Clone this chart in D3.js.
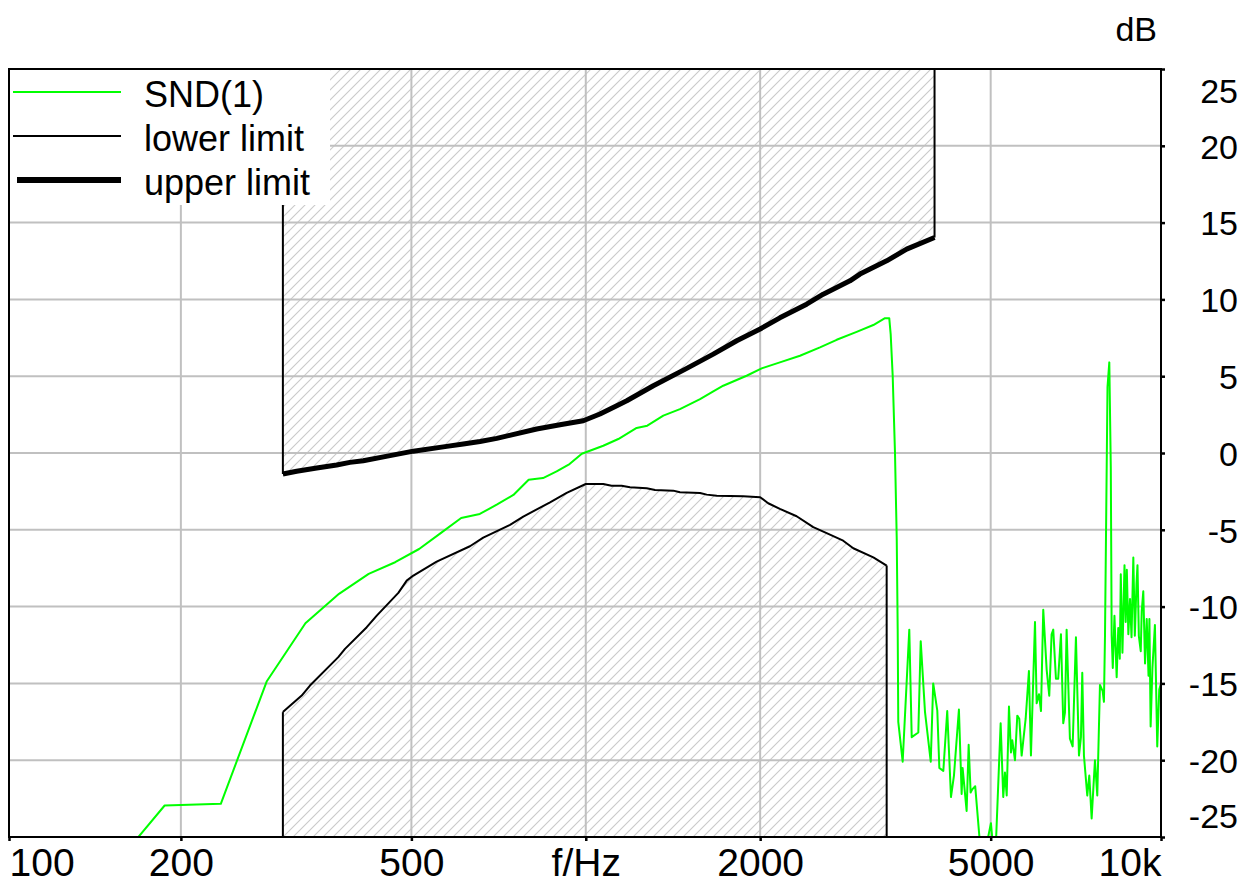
<!DOCTYPE html>
<html><head><meta charset="utf-8">
<script src="https://cdn.jsdelivr.net/npm/d3@7"></script>
<style>
html,body{margin:0;padding:0;background:#fff;}
svg{display:block;font-family:"Liberation Sans",Arial,sans-serif;}
</style></head>
<body>
<svg id="chart" width="1248" height="885"></svg>
<script>
// ---- data ----
const sndFreq = [140.6,187.5,234.4,281.25,328.1,375,421.9,468.75,515.6,562.5,609.4,656.25,703.1,750,796.9,843.75,890.6,937.5,984.4,
1072,1138,1224,1277,1361,1454,1575,1660,1727,1895,2012,2163,2343,2537,2711,2935,3136,3285,3341,3360,3387,3418,3442,3455,3463,3524,
3618,3653,3750,3786,3851,3940,3979,4044,4077,4142,4207,4270,4321,4407,4455,4472,4544,4581,4617,4647,4702,
4830,5005,5086,
5202,5256,5292,5329,5377,5420,5448,5507,5558,5602,5655,5746,5821,5868,5963,6003,6058,6107,6162,6246,6311,6370,6412,6481,6539,6611,6672,6717,6762,6851,6926,7017,7102,7158,7196,7244,7340,7399,7469,7568,7638,7720,7803,7843,7876,
7955,8012,8060,8088,8124,8178,8250,8303,8353,8386,8442,8511,8552,8590,8642,8700,8752,8815,8868,8927,8962,9010,9079,9114,9171,9235,9297,9364,9397,9443,9510,9605,9694,9772,9840];
const sndDb = [-28.6,-22.95,-22.84,-14.88,-11.08,-9.17,-7.87,-7.11,-6.25,-5.2,-4.23,-3.97,-3.35,-2.73,-1.74,-1.63,-1.2,-0.72,-0.05,
0.47,0.91,1.63,1.78,2.43,2.86,3.51,4.01,4.38,5.03,5.51,5.9,6.33,6.88,7.37,7.89,8.33,8.78,8.78,7.74,5.03,0.04,-5.6,-11.45,-17.5,-20.1,
-11.5,-18.5,-18.2,-12.25,-16.85,-20.1,-15.0,-16.77,-20.5,-20.7,-16.8,-22.4,-21,-16.7,-22.2,-20.5,-23.3,-19.0,-22.1,-21.9,-21.7,
-27,-24.1,-27,
-17.6,-22.4,-20.8,-22.3,-16.5,-19.5,-18.7,-20.0,-17.1,-17.3,-19.7,-17.3,-14.2,-19.7,-11.0,-16.3,-15.7,-16.8,-10.2,-14.1,-15.8,-11.8,-11.5,-14.7,-14.7,-11.8,-17.6,-16.9,-11.5,-18.6,-19.1,-12.0,-19.7,-18.5,-14.3,-19.7,-22.3,-21.0,-23.8,-20.0,-22.3,-15.1,-15.5,-16.2,-11.9,
4.3,5.9,-1.0,-11.9,-14.0,-10.6,-14.6,-11.4,-13.4,-7.9,-13.0,-7.3,-11.0,-7.6,-11.8,-9.5,-12.0,-6.8,-11.9,-8.5,-7.3,-11.9,-12.9,-10.3,-9.0,-13.7,-10.8,-14.5,-10.8,-17.8,-14.0,-11.2,-19.1,-15.4,-15.0];

const lowerFreq = [300,323.3,334.1,373.9,384,418.7,435.7,474.7,490.8,503.9,552.8,631,665.3,740,780,867.6,926.9,1000,1072,1108,1153,1192,1274,1317,1416,1454,1575,1617,1683,1870,2000,2065,2163,2312,2470,2605,2782,2896,3136,3307];
const lowerDb = [-16.87,-15.79,-15.14,-13.29,-12.75,-11.34,-10.59,-9.11,-8.31,-7.98,-7.07,-6.07,-5.51,-4.68,-4.14,-3.21,-2.6,-2.02,-2.02,-2.13,-2.13,-2.23,-2.3,-2.41,-2.45,-2.56,-2.6,-2.71,-2.78,-2.82,-2.88,-3.27,-3.64,-4.12,-4.83,-5.22,-5.71,-6.2,-6.79,-7.33];

const upperFreq = [300,316.9,343.2,371.5,391.6,412.9,459.2,503.9,575.4,614.5,656.8,702,822.7,902.5,990,1058,1131,1177,1308,1494,1660,1822,2000,2163,2406,2570,2858,2974,3307,3580,4000];
const upperDb = [-1.37,-1.19,-0.98,-0.78,-0.61,-0.5,-0.17,0.12,0.43,0.59,0.75,0.95,1.56,1.84,2.1,2.54,3.08,3.4,4.38,5.51,6.44,7.31,8.07,8.8,9.69,10.34,11.21,11.65,12.51,13.27,14.03];

const xTicks = [100,200,500,1000,2000,5000,10000];
const xTickLabels = ["100","200","500","f/Hz","2000","5000","10k"];
const yTicks = [-25,-20,-15,-10,-5,0,5,10,15,20,25];
const yTickLabels = ["-25","-20","-15","-10","-5","0","5","10","15","20","25"];
const legendNames = ["SND(1)","lower limit","upper limit"];

// ---- layout ----
const L = 9, R = 1161, T = 69, B = 837;
const x = d3.scaleLog().domain([101,9840]).range([L,R]).clamp(true);
const y = d3.scaleLinear().domain([-25,25]).range([B,T]);
const svg = d3.select("#chart");
const GRID = "#c0c0c0", HATCH = "#cacaca", GREEN = "#00ff00";

const defs = svg.append("defs");
defs.append("clipPath").attr("id","clip").append("rect")
  .attr("x",L).attr("y",T).attr("width",R-L).attr("height",B-T);
const HS = 10;
const pat = defs.append("pattern").attr("id","hatch").attr("patternUnits","userSpaceOnUse")
  .attr("width",HS).attr("height",HS);
pat.append("path").attr("d",`M-1,1 L1,-1 M0,${HS} L${HS},0 M${HS-1},${HS+1} L${HS+1},${HS-1}`)
  .attr("stroke",HATCH).attr("stroke-width",1.1);

const plot = svg.append("g").attr("clip-path","url(#clip)");

const lowerPts = lowerFreq.map((f,i)=>[f,lowerDb[i]]);
const upperPts = upperFreq.map((f,i)=>[f,upperDb[i]]);
const sndPts = sndFreq.map((f,i)=>[f,sndDb[i]]);
const line = d3.line().x(d=>x(d[0])).y(d=>y(d[1]));

// hatched forbidden regions
const upperPoly = [[upperFreq[0],25],...upperPts,[upperFreq[upperFreq.length-1],25]];
const lowerPoly = [[lowerFreq[0],-25],...lowerPts,[lowerFreq[lowerFreq.length-1],-25]];
plot.append("path").attr("d",line(upperPoly)+"Z").attr("fill","url(#hatch)");
plot.append("path").attr("d",line(lowerPoly)+"Z").attr("fill","url(#hatch)");

// grid
const gx = [200,500,1000,2000,5000];
const gy = [-20,-15,-10,-5,0,5,10,15,20];
plot.selectAll(".gx").data(gx).enter().append("line")
  .attr("x1",d=>x(d)).attr("x2",d=>x(d)).attr("y1",T).attr("y2",B)
  .attr("stroke",GRID).attr("stroke-width",2);
plot.selectAll(".gy").data(gy).enter().append("line")
  .attr("y1",d=>y(d)).attr("y2",d=>y(d)).attr("x1",L).attr("x2",R)
  .attr("stroke",GRID).attr("stroke-width",2);

// region edges
const vEdges = [
  [[upperFreq[0],25],upperPts[0]],
  [upperPts[upperPts.length-1],[upperFreq[upperFreq.length-1],25]],
  [[lowerFreq[0],-25],lowerPts[0]],
  [lowerPts[lowerPts.length-1],[lowerFreq[lowerFreq.length-1],-25]]
];
vEdges.forEach(e=>plot.append("path").attr("d",line(e)).attr("fill","none")
  .attr("stroke","#000").attr("stroke-width",2));
plot.append("path").attr("d",line(lowerPts)).attr("fill","none")
  .attr("stroke","#000").attr("stroke-width",2).attr("stroke-linejoin","round");
plot.append("path").attr("d",line(sndPts)).attr("fill","none")
  .attr("stroke",GREEN).attr("stroke-width",2).attr("stroke-linejoin","round");
plot.append("path").attr("d",line(upperPts)).attr("fill","none")
  .attr("stroke","#000").attr("stroke-width",5).attr("stroke-linejoin","round");

// legend
const lg = svg.append("g");
lg.append("rect").attr("x",L).attr("y",T).attr("width",321).attr("height",136).attr("fill","#fff");
const legStyles = [{c:GREEN,w:2,x0:13},{c:"#000",w:2,x0:13},{c:"#000",w:6,x0:17}];
const legY = [92,136,180];
legendNames.forEach((n,i)=>{
  lg.append("line").attr("x1",legStyles[i].x0).attr("x2",121).attr("y1",legY[i]).attr("y2",legY[i])
    .attr("stroke",legStyles[i].c).attr("stroke-width",legStyles[i].w);
  lg.append("text").attr("x",144).attr("y",legY[i]+15).attr("font-size",36).attr("fill","#000").text(n);
});

// frame
svg.append("rect").attr("x",L).attr("y",T).attr("width",R-L).attr("height",B-T)
  .attr("fill","none").attr("stroke","#000").attr("stroke-width",2);

// axes
const xAxis = d3.axisBottom(x).tickValues(xTicks).tickFormat((d,i)=>xTickLabels[i]).tickSize(4).tickSizeOuter(0);
const gxa = svg.append("g").attr("transform",`translate(0,${B})`).call(xAxis);
gxa.select(".domain").remove();
gxa.selectAll(".tick line").attr("stroke","#000").attr("stroke-width",2.5);
gxa.selectAll(".tick text").attr("font-size",39).attr("fill","#000").attr("y",39).attr("dy",0)
  .attr("font-family","Liberation Sans, Arial, sans-serif")
  .attr("text-anchor",(d,i)=> i===0 ? "start" : (i===xTicks.length-1 ? "end" : "middle"));

const yAxis = d3.axisRight(y).tickValues(yTicks).tickFormat((d,i)=>yTickLabels[i]).tickSize(4).tickSizeOuter(0);
const gya = svg.append("g").attr("transform",`translate(${R},0)`).call(yAxis);
gya.select(".domain").remove();
gya.selectAll(".tick line").attr("stroke","#000").attr("stroke-width",2.5);
gya.selectAll(".tick text").attr("font-size",34).attr("fill","#000").attr("x",77).attr("dy","0.36em")
  .attr("font-family","Liberation Sans, Arial, sans-serif")
  .attr("text-anchor","end")
  .attr("transform",d=> d===25 ? "translate(0,21)" : (d===-25 ? "translate(0,-22)" : null));

svg.append("text").attr("x",1157).attr("y",41).attr("text-anchor","end")
  .attr("font-size",34).attr("fill","#000").text("dB");
</script>
</body></html>
